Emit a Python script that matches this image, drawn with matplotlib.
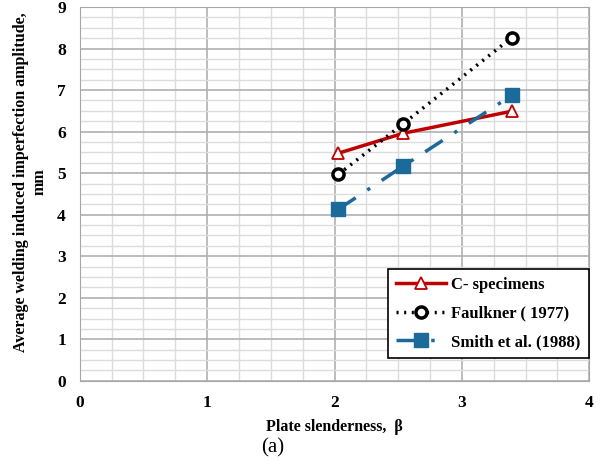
import matplotlib.pyplot as plt
from matplotlib.ticker import MultipleLocator

# data
slenderness = [2.03, 2.54, 3.39]
c_specimens = [5.48, 5.96, 6.49]
faulkner = [4.97, 6.19, 8.26]
smith = [4.13, 5.17, 6.87]

plt.rcParams['font.family'] = ['Liberation Serif', 'DejaVu Serif']

fig = plt.figure(figsize=(6, 4.69), dpi=100)
ax = fig.add_axes([0.133, 0.188, 0.849, 0.797])

ax.plot(slenderness, c_specimens, color="#c00000", lw=2.5, marker="^", ms=8,
        mfc="white", mec="#c00000", mew=1.3, label="C- specimens", zorder=3)
ax.plot(slenderness, faulkner, color="black", lw=2.5, ls=(0, (0.6, 1.6)), marker="o", ms=8,
        mfc="white", mec="black", mew=2.5, label="Faulkner ( 1977)", zorder=4)
ax.plot(slenderness, smith, color="#1a6a9a", lw=2.5, ls=(0, (6, 4, 1, 4)), marker="s", ms=10,
        mfc="#1a6a9a", mec="#1a6a9a", label="Smith et al. (1988)", zorder=3)

ax.set_xlim(0, 4)
ax.set_ylim(0, 9)
ax.xaxis.set_major_locator(MultipleLocator(1))
ax.yaxis.set_major_locator(MultipleLocator(1))
ax.xaxis.set_minor_locator(MultipleLocator(0.25))
ax.yaxis.set_minor_locator(MultipleLocator(0.25))
ax.grid(which="major", color="#b0b0b0", lw=1.2)
ax.grid(which="minor", color="#dcdcdc", lw=1.0)
ax.set_axisbelow(True)
ax.tick_params(which="both", length=0, labelsize=12.5, pad=10)
for lbl in ax.get_xticklabels() + ax.get_yticklabels():
    lbl.set_fontweight("bold")
for s in ax.spines.values():
    s.set_color("#a6a6a6")

ax.set_xlabel("Plate slenderness,  β", fontsize=11.5, fontweight="bold", labelpad=6)
ax.set_ylabel("Average welding induced imperfection amplitude,\nmm", fontsize=11.5,
              fontweight="bold", linespacing=1.15)
ax.yaxis.set_label_coords(-0.064, 0.532)

leg = ax.legend(loc="lower right", bbox_to_anchor=(1.0, 0.06), borderaxespad=0,
                prop={"weight": "bold", "size": 12}, frameon=True, fancybox=False,
                edgecolor="black", framealpha=1, handlelength=3.0, handletextpad=0.3,
                borderpad=0.5, labelspacing=0.75)
leg.get_frame().set_linewidth(1.2)

fig.text(0.455, 0.025, "(a)", fontsize=15, ha="center", va="bottom")

fig.savefig("out.png", dpi=100)
